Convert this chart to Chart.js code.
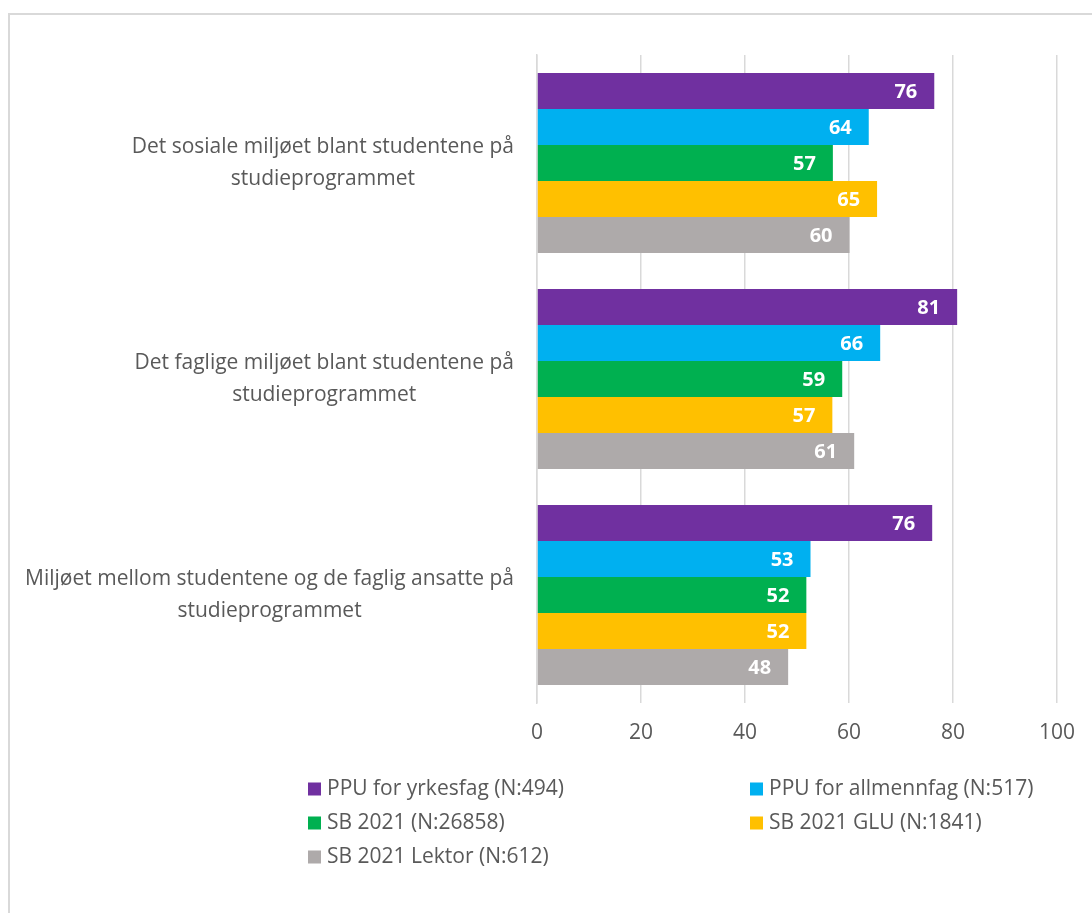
<!DOCTYPE html>
<html>
<head>
<meta charset="utf-8">
<script src="https://cdn.jsdelivr.net/npm/chart.js@4/dist/chart.umd.min.js"></script>
<style>
    html, body { margin: 0; padding: 0; background: #fff; }
    body { width: 1092px; height: 913px; overflow: hidden; position: relative; }
    #frame {
        position: absolute; left: 8px; top: 13px; width: 1200px; height: 1000px;
        border: 2px solid #d9d9d9; box-sizing: border-box;
    }
    #chart { position: absolute; left: 0; top: 0; }
</style>
</head>
<body>
<div id="frame"></div>
<canvas id="chart" width="1092" height="913"></canvas>
<script>
// Categories (each is split into the lines shown on the axis)
const categories = [
    ['Det sosiale miljøet blant studentene på', 'studieprogrammet'],
    ['Det faglige miljøet blant studentene på', 'studieprogrammet'],
    ['Miljøet mellom studentene og de faglig ansatte på', 'studieprogrammet']
];

const seriesNames = [
    'PPU for yrkesfag (N:494)',
    'PPU for allmennfag (N:517)',
    'SB 2021 (N:26858)',
    'SB 2021 GLU (N:1841)',
    'SB 2021 Lektor (N:612)'
];
const seriesColors = ['#7030A0', '#00B0F0', '#00B050', '#FFC000', '#AEAAAA'];

// values per series, one per category
const ppuYrkesfag   = [76.4, 80.8, 76.0];
const ppuAllmennfag = [63.8, 66.0, 52.6];
const sb2021        = [56.9, 58.7, 51.8];
const sb2021Glu     = [65.4, 56.8, 51.8];
const sb2021Lektor  = [60.1, 61.0, 48.3];

const xTicks = [0, 20, 40, 60, 80, 100];

const seriesValues = [ppuYrkesfag, ppuAllmennfag, sb2021, sb2021Glu, sb2021Lektor];

const FONT = "'Open Sans', 'Liberation Sans', sans-serif";
const TEXT_COLOR = '#595959';
const GRID_COLOR = '#d9d9d9';

// white value labels at the inner end of each bar
const valueLabels = {
    id: 'valueLabels',
    afterDatasetsDraw(chart) {
        const ctx = chart.ctx;
        ctx.save();
        ctx.font = 'bold 20px ' + FONT;
        ctx.fillStyle = '#ffffff';
        ctx.textAlign = 'right';
        ctx.textBaseline = 'middle';
        chart.data.datasets.forEach((ds, i) => {
            chart.getDatasetMeta(i).data.forEach((bar, j) => {
                ctx.fillText(Math.round(ds.data[j]), bar.x - 17, bar.y + 1);
            });
        });
        ctx.restore();
    }
};

// category labels: block right aligned, lines centred among themselves
const categoryLabels = {
    id: 'categoryLabels',
    afterDraw(chart) {
        const ctx = chart.ctx;
        const yScale = chart.scales.y;
        const right = chart.chartArea.left - 23;
        const lineH = 32;
        ctx.save();
        ctx.font = '21px ' + FONT;
        ctx.fillStyle = TEXT_COLOR;
        ctx.textAlign = 'center';
        ctx.textBaseline = 'middle';
        categories.forEach((lines, i) => {
            const yc = yScale.getPixelForValue(i);
            const widest = Math.max(...lines.map(l => ctx.measureText(l).width));
            const cx = right - widest / 2;
            lines.forEach((line, k) => {
                ctx.fillText(line, cx, yc + (k - (lines.length - 1) / 2) * lineH);
            });
        });
        ctx.restore();
    }
};

// two-column legend under the chart
const gridLegend = {
    id: 'gridLegend',
    afterDraw(chart) {
        const ctx = chart.ctx;
        const colX = [308, 750];
        const rowY = [789, 823, 857];
        ctx.save();
        ctx.font = '21px ' + FONT;
        ctx.textAlign = 'left';
        ctx.textBaseline = 'middle';
        seriesNames.forEach((name, i) => {
            const x = colX[i % 2];
            const y = rowY[Math.floor(i / 2)];
            ctx.fillStyle = seriesColors[i];
            ctx.fillRect(x, y - 6.5, 13, 13);
            ctx.fillStyle = TEXT_COLOR;
            ctx.fillText(name, x + 19, y);
        });
        ctx.restore();
    }
};

new Chart(document.getElementById('chart'), {
    type: 'bar',
    data: {
        labels: categories.map(c => c.join(' ')),
        datasets: seriesNames.map((name, i) => ({
            label: name,
            data: seriesValues[i],
            backgroundColor: seriesColors[i],
            borderWidth: 0,
            barPercentage: 1,
            categoryPercentage: 0.833
        }))
    },
    options: {
        indexAxis: 'y',
        responsive: false,
        animation: false,
        layout: { padding: { left: 0, top: 55, right: 35, bottom: 150 } },
        plugins: {
            legend: { display: false },
            tooltip: { enabled: false }
        },
        scales: {
            x: {
                min: 0,
                max: 100,
                afterBuildTicks: s => { s.ticks = xTicks.map(v => ({ value: v })); },
                afterFit: s => { s.height = 60; },
                grid: { color: GRID_COLOR, lineWidth: 1.5, drawTicks: false },
                border: { display: false },
                ticks: { color: TEXT_COLOR, font: { family: FONT, size: 21 }, padding: 17 }
            },
            y: {
                afterFit: s => { s.width = 537; },
                grid: { display: false },
                border: { display: true, color: GRID_COLOR, width: 1.5 },
                ticks: { display: false }
            }
        }
    },
    plugins: [valueLabels, categoryLabels, gridLegend]
});
</script>
</body>
</html>
